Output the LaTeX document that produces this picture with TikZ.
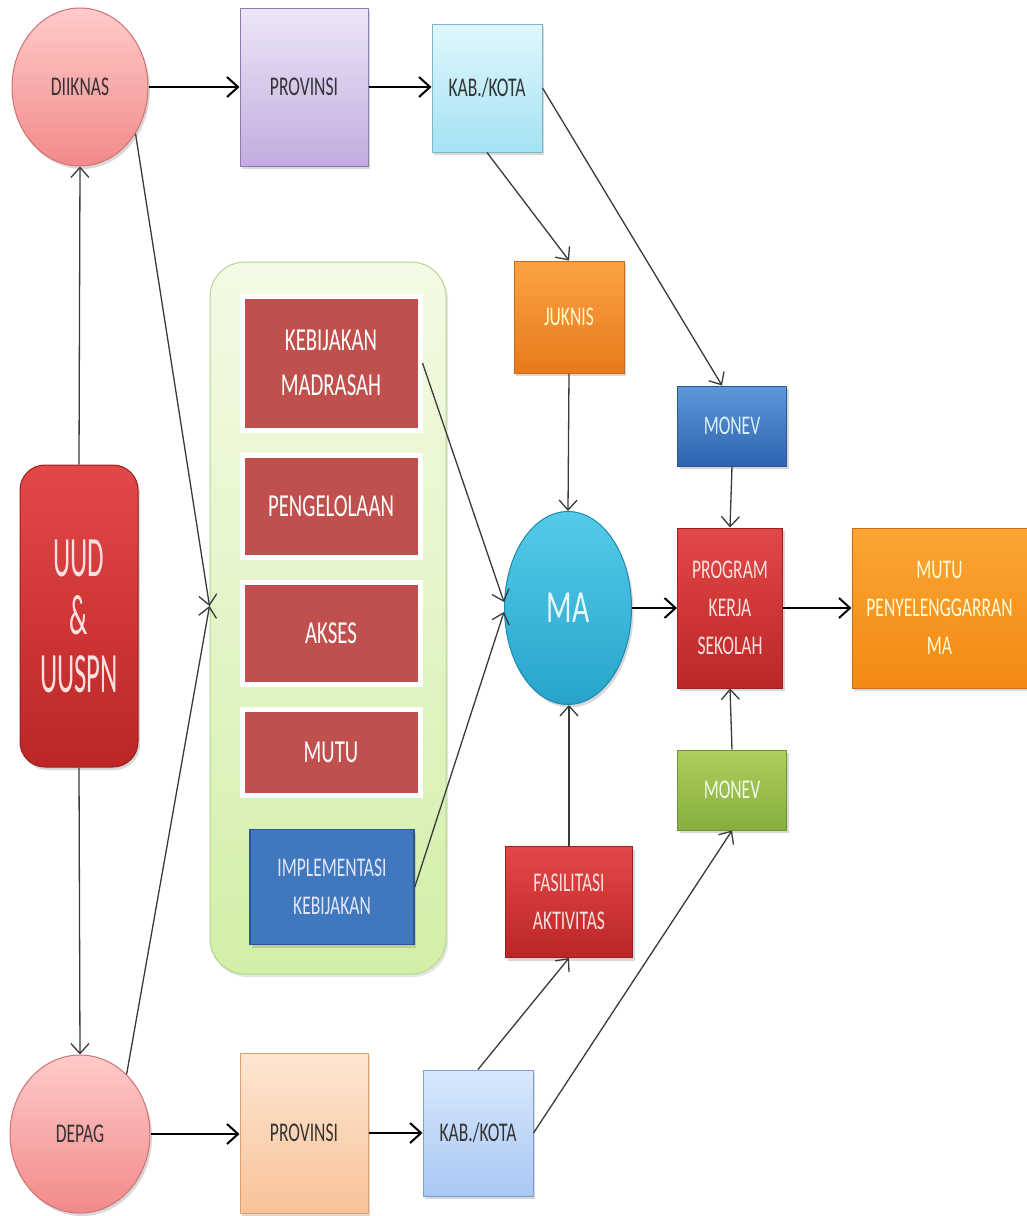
\documentclass[tikz,border=0pt]{standalone}
\usepackage{fontspec}
\setmainfont{Carlito}[FakeStretch=0.65]
\newfontfamily\uudfont{Carlito}[FakeStretch=0.47]
\usetikzlibrary{arrows.meta,shapes.geometric,shadows}
\definecolor{pinkT}{HTML}{FFCACA}
\definecolor{pinkB}{HTML}{F28A8A}
\definecolor{pinkD}{HTML}{D07272}
\definecolor{lavT}{HTML}{EDE5F7}
\definecolor{lavB}{HTML}{C2ACDF}
\definecolor{lavD}{HTML}{8E7BAE}
\definecolor{cyT}{HTML}{DFF7FD}
\definecolor{cyB}{HTML}{A5E2F4}
\definecolor{cyD}{HTML}{7FB6C8}
\definecolor{orT}{HTML}{FCA244}
\definecolor{orB}{HTML}{E67A1C}
\definecolor{orD}{HTML}{C86A1A}
\definecolor{blT}{HTML}{5E98DA}
\definecolor{blB}{HTML}{2E63AE}
\definecolor{blD}{HTML}{2A5590}
\definecolor{maT}{HTML}{55CBEA}
\definecolor{maB}{HTML}{27A3CB}
\definecolor{maD}{HTML}{1F8AAE}
\definecolor{rdT}{HTML}{E24848}
\definecolor{rdB}{HTML}{BC2626}
\definecolor{rdD}{HTML}{9A2020}
\definecolor{muT}{HTML}{FCA535}
\definecolor{muB}{HTML}{F18A12}
\definecolor{grT}{HTML}{ADCF5E}
\definecolor{grB}{HTML}{86AE3E}
\definecolor{grD}{HTML}{6E9430}
\definecolor{cnT}{HTML}{F4FAE6}
\definecolor{cnB}{HTML}{D2EFA8}
\definecolor{cnD}{HTML}{B5D68C}
\definecolor{inR}{HTML}{C0504D}
\definecolor{imB}{HTML}{3F78BC}
\definecolor{pcT}{HTML}{FDE6D2}
\definecolor{pcB}{HTML}{F8C398}
\definecolor{pcD}{HTML}{DFA070}
\definecolor{lbT}{HTML}{D8E7FC}
\definecolor{lbB}{HTML}{A9C8F4}
\definecolor{lbD}{HTML}{7E9FCC}
\definecolor{txtdark}{HTML}{333333}
\definecolor{lnc}{HTML}{3A3A3A}
\begin{document}
\begin{tikzpicture}[x=1pt,y=-1pt,
  lbl/.style={font=\fontsize{27}{38}\selectfont},
  biglbl/.style={font=\fontsize{32}{45}\selectfont},
  sz/.style 2 args={minimum width=#1, minimum height=#2},
  bx/.style={rectangle, inner sep=0pt, align=center, line width=1pt,
    drop shadow={opacity=0.3, shadow xshift=2pt, shadow yshift=-3pt}},
  ov/.style={ellipse, inner sep=0pt, align=center, line width=1pt,
    drop shadow={opacity=0.3, shadow xshift=2pt, shadow yshift=-3pt}},
  inbox/.style={rectangle, inner sep=0pt, align=center, fill=inR, draw=white,
    line width=5pt, text=white, biglbl,
    drop shadow={opacity=0.3, shadow xshift=2pt, shadow yshift=-3pt}},
  conn/.style={draw=lnc, line width=1.3pt, -{Straight Barb[length=10pt,width=18pt,line width=1.3pt]}},
  hconn/.style={draw=black, line width=2.2pt, -{Straight Barb[length=11pt,width=20pt,line width=2pt]}}
]
\useasboundingbox (0,0) rectangle (1027,1216);
\fill[white] (0,0) rectangle (1027,1216);

% container
\node[rectangle, rounded corners=35pt, sz={236pt}{712pt}, top color=cnT, bottom color=cnB,
  draw=cnD, line width=1pt, drop shadow={opacity=0.2, shadow xshift=2pt, shadow yshift=-3pt}] (cont) at (328,618) {};
\node[inbox, sz={178pt}{134pt}] (keb) at (331,363) {KEBIJAKAN\\MADRASAH};
\node[inbox, sz={178pt}{102pt}] (peng) at (331,506) {PENGELOLAAN};
\node[inbox, sz={178pt}{102pt}] (aks) at (331,633) {AKSES};
\node[inbox, sz={178pt}{86pt}] (mutuin) at (331,752) {MUTU};
\node[bx, sz={164pt}{115pt}, fill=imB, draw=blD, line width=1.5pt, text=white!90!blue, lbl] (impl) at (332,887) {IMPLEMENTASI\\KEBIJAKAN};

% top row
\node[ov, sz={136pt}{158pt}, top color=pinkT, bottom color=pinkB, draw=pinkD, text=txtdark, lbl] (diik) at (80,87) {DIIKNAS};
\node[bx, sz={128pt}{158pt}, top color=lavT, bottom color=lavB, draw=lavD, text=txtdark, lbl] (prov1) at (304,87) {PROVINSI};
\node[bx, sz={110pt}{128pt}, top color=cyT, bottom color=cyB, draw=cyD, text=txtdark, lbl] (kab1) at (487,88) {KAB./KOTA};

% middle
\node[bx, sz={110pt}{112pt}, top color=orT, bottom color=orB, draw=orD, text=yellow!20!white, lbl] (juk) at (569,317) {JUKNIS};
\node[bx, sz={109pt}{80pt}, top color=blT, bottom color=blB, draw=blD, text=white!85!cyan, lbl] (mon1) at (732,426) {MONEV};
\node[ov, sz={127pt}{193pt}, top color=maT, bottom color=maB, draw=maD, text=white!90!cyan, font=\fontsize{46}{50}\selectfont] (ma) at (568,608) {MA};
\node[bx, sz={105pt}{160pt}, top color=rdT, bottom color=rdB, draw=rdD, text=white!88!red, lbl] (prog) at (730,608) {PROGRAM\\KERJA\\SEKOLAH};
\node[bx, sz={175pt}{160pt}, top color=muT, bottom color=muB, draw=orD, text=yellow!15!white, lbl] (mutu) at (939.5,608) {MUTU\\PENYELENGGARRAN\\MA};
\node[bx, sz={109pt}{80pt}, top color=grT, bottom color=grB, draw=grD, text=green!8!white, lbl] (mon2) at (732,790) {MONEV};
\node[bx, sz={127pt}{111pt}, top color=rdT, bottom color=rdB, draw=rdD, text=white!88!red, lbl] (fas) at (569,902) {FASILITASI\\AKTIVITAS};

% UUD
\node[rectangle, rounded corners=25pt, inner sep=0pt, align=center, sz={118pt}{302pt},
  top color=rdT, bottom color=rdB, draw=rdD, line width=1pt, text=white!88!red,
  font=\uudfont\fontsize{57}{58}\selectfont,
  drop shadow={opacity=0.3, shadow xshift=2pt, shadow yshift=-3pt}] (uud) at (79,616) {UUD\\\&\\UUSPN};

% bottom row
\node[ov, sz={140pt}{158pt}, top color=pinkT, bottom color=pinkB, draw=pinkD, text=txtdark, lbl] (depag) at (80,1134) {DEPAG};
\node[bx, sz={128pt}{160pt}, top color=pcT, bottom color=pcB, draw=pcD, text=txtdark, lbl] (prov2) at (304,1133) {PROVINSI};
\node[bx, sz={110pt}{126pt}, top color=lbT, bottom color=lbB, draw=lbD, text=txtdark, lbl] (kab2) at (478,1133) {KAB./KOTA};

\coordinate (cj) at ([yshift=12pt]cont.west);

% connectors
\draw[hconn] (diik.east) -- (prov1.west);
\draw[hconn] (prov1.east) -- (prov1.east -| kab1.west);
\draw[conn] (kab1.south) -- (juk.north);
\draw[conn] (kab1.east) -- ([xshift=-10pt]mon1.north);
\draw[conn] (juk.south) -- (ma.north);
\draw[conn] (mon1.south) -- (prog.north);
\draw[hconn] (ma.east) -- (prog.west);
\draw[hconn] (prog.east) -- (mutu.west);
\draw[conn] (mon2.north) -- (prog.south);
\draw[conn] (fas.north) -- (fas.north |- ma.south);
\draw[conn] (keb.east) -- ([yshift=6pt]ma.west);
\draw[conn] (impl.east) -- ([yshift=-4pt]ma.west);
\draw[conn] (uud.north) -- (diik.south);
\draw[conn] (uud.south) -- (depag.north);
\draw[conn] (diik.-40) -- (cj);
\draw[conn] (depag.52) -- (cj);
\draw[conn] (kab2.north) -- (fas.south);
\draw[conn] (kab2.east) -- (mon2.south);
\draw[hconn] (depag.east) -- (depag.east -| prov2.west);
\draw[hconn] (prov2.east) -- (prov2.east -| kab2.west);
\end{tikzpicture}
\end{document}
